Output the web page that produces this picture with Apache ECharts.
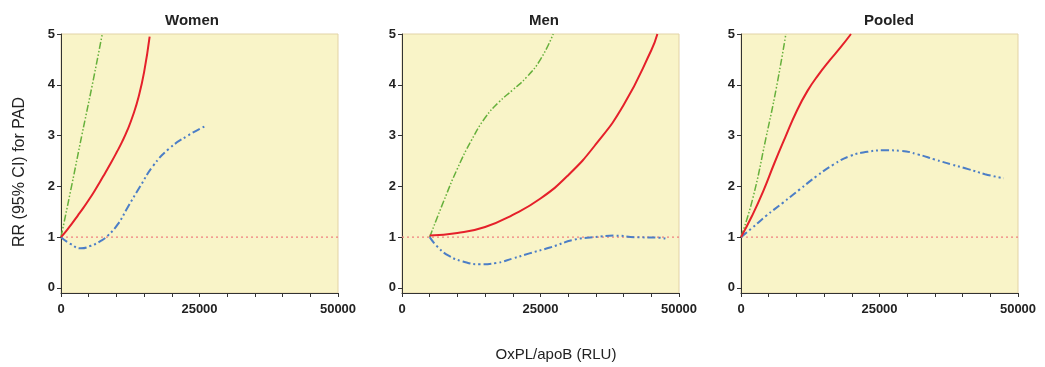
<!DOCTYPE html>
<html>
<head>
<meta charset="utf-8">
<script src="https://cdn.jsdelivr.net/npm/echarts@6/dist/echarts.min.js"></script>
<style>
html,body{margin:0;padding:0;background:#fff;}
#c{width:1045px;height:367px;}
</style>
</head>
<body>
<div id="c"></div>
<script>
// ---- data ----
const panelTitles = ['Women', 'Men', 'Pooled'];
const xTickLabels = [0, 25000, 50000];
const yTickLabels = [0, 1, 2, 3, 4, 5];
const refLine = [[0, 1], [50000, 1]];

const womenRR = [[0,1],[1000,1.13],[2000,1.27],[3000,1.42],[4000,1.57],[5000,1.73],[6000,1.9],[7000,2.08],[8000,2.27],[9000,2.46],[10000,2.66],[11000,2.87],[12000,3.11],[13000,3.4],[14000,3.76],[15000,4.25],[16000,4.95]];
const womenUpper = [[0,1],[1900,2],[3750,3],[5650,4],[7450,5]];
const womenLower = [[0,1],[1800,0.86],[3600,0.78],[5400,0.83],[7250,0.93],[8450,1.03],[10300,1.26],[12100,1.6],[14300,2.0],[16600,2.4],[19500,2.74],[22900,3.0],[26300,3.2]];

const menRR = [[5000,1.03],[10000,1.08],[15000,1.2],[20000,1.44],[25000,1.76],[30000,2.22],[35000,2.83],[40000,3.6],[45000,4.68],[46100,5.0]];
const menUpper = [[5000,1],[7500,1.7],[10000,2.35],[12500,2.9],[15000,3.35],[17500,3.66],[20000,3.9],[22500,4.15],[25000,4.5],[27300,5.0]];
const menLower = [[5000,1],[6500,0.8],[8500,0.63],[11000,0.52],[14000,0.465],[17000,0.49],[20000,0.58],[23000,0.68],[26850,0.8],[31100,0.95],[34750,1.0],[38400,1.03],[42000,1.0],[46300,0.99],[48100,0.96]];

const pooledRR = [[0,1],[2000,1.42],[4000,1.9],[6000,2.45],[8000,2.97],[10000,3.47],[12000,3.88],[14000,4.2],[16000,4.48],[18000,4.74],[19850,5.0]];
const pooledUpper = [[0,1],[2100,1.75],[4500,2.95],[6400,3.95],[8100,5.0]];
const pooledLower = [[0,1],[2100,1.19],[4550,1.42],[7600,1.68],[10600,1.94],[13650,2.2],[16700,2.43],[19750,2.6],[22800,2.68],[25800,2.71],[28850,2.7],[31900,2.63],[34950,2.53],[38000,2.43],[41000,2.34],[44050,2.24],[47400,2.16]];

const panels = [
  {rr: womenRR, up: womenUpper, lo: womenLower},
  {rr: menRR, up: menUpper, lo: menLower},
  {rr: pooledRR, up: pooledUpper, lo: pooledLower}
];

// ---- layout / style ----
const gridLefts = [61, 402, 741];
const titleX = [187, 539, 884];
const FONT = 'Liberation Sans, Arial, sans-serif';
const grids = [], xAxes = [], yAxes = [], series = [], titles = [];
const plain = v => String(v);

panels.forEach((p, i) => {
  grids.push({left: gridLefts[i], top: 34, width: 277, height: 259, show: true,
    backgroundColor: '#f9f4c8', borderColor: '#e2d3a6', borderWidth: 1});
  xAxes.push({type: 'value', gridIndex: i, min: 0, max: 50000, interval: 5000,
    axisLine: {show: true, onZero: false, lineStyle: {color: '#333', width: 1}},
    axisTick: {show: true, length: 4, lineStyle: {color: '#333'}},
    axisLabel: {customValues: xTickLabels, formatter: plain, margin: 10, fontSize: 13, fontWeight: 'bold', color: '#222', fontFamily: FONT},
    splitLine: {show: false}});
  yAxes.push({type: 'value', gridIndex: i, min: -0.1, max: 5,
    axisLine: {show: true, lineStyle: {color: '#333', width: 1}},
    axisTick: {show: true, length: 4, customValues: yTickLabels, lineStyle: {color: '#333'}},
    axisLabel: {customValues: yTickLabels, formatter: plain, margin: 6, fontSize: 13, fontWeight: 'bold', color: '#222', fontFamily: FONT},
    splitLine: {show: false}});
  titles.push({text: panelTitles[i], left: titleX[i], top: 8, textAlign: 'center',
    textStyle: {fontSize: 15, fontWeight: 'bold', color: '#222', fontFamily: FONT}});
  const common = {type: 'line', xAxisIndex: i, yAxisIndex: i, showSymbol: false, smooth: true};
  series.push({type: 'line', xAxisIndex: i, yAxisIndex: i, data: refLine, showSymbol: false, silent: true,
    lineStyle: {color: '#f08080', width: 1.2, type: [2, 3]}, z: 1});
  series.push(Object.assign({}, common, {data: p.up,
    lineStyle: {color: '#66b03c', width: 1.5, type: [7, 2, 1.5, 2, 1.5, 2]}, z: 2}));
  series.push(Object.assign({}, common, {data: p.lo,
    lineStyle: {color: '#4c7ec6', width: 2, type: [8, 3, 2, 3, 2, 3]}, z: 2}));
  series.push(Object.assign({}, common, {data: p.rr,
    lineStyle: {color: '#e5202a', width: 2}, z: 3}));
});

titles.push({text: 'OxPL/apoB (RLU)', left: 551, top: 342, textAlign: 'center',
  textStyle: {fontSize: 15, fontWeight: 'normal', color: '#222', fontFamily: FONT}});

const chart = echarts.init(document.getElementById('c'), null, {renderer: 'canvas'});
chart.setOption({
  animation: false,
  title: titles,
  grid: grids,
  xAxis: xAxes,
  yAxis: yAxes,
  series: series,
  graphic: [{type: 'text', x: 20, y: 172, rotation: Math.PI / 2,
    style: {text: 'RR (95% CI) for PAD', fontSize: 16, fill: '#222', fontFamily: FONT,
      textAlign: 'center', textVerticalAlign: 'middle'}}]
});
</script>
</body>
</html>
